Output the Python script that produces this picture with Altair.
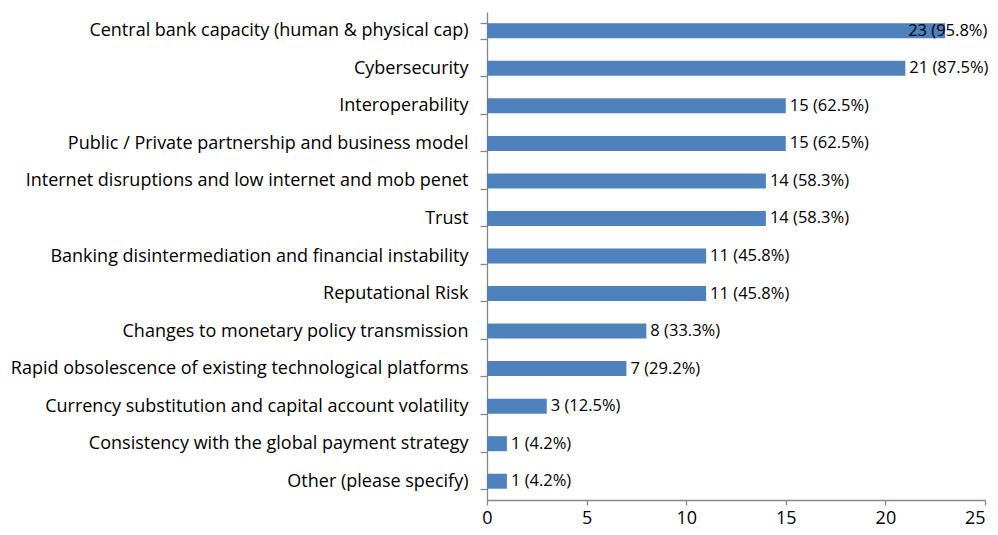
import altair as alt
import pandas as pd

categories = [
    "Central bank capacity (human & physical cap)",
    "Cybersecurity",
    "Interoperability",
    "Public / Private partnership and business model",
    "Internet disruptions and low internet and mob penet",
    "Trust",
    "Banking disintermediation and financial instability",
    "Reputational Risk",
    "Changes to monetary policy transmission",
    "Rapid obsolescence of existing technological platforms",
    "Currency substitution and capital account volatility",
    "Consistency with the global payment strategy",
    "Other (please specify)",
]
counts = [23, 21, 15, 15, 14, 14, 11, 11, 8, 7, 3, 1, 1]
percents = ["95.8%", "87.5%", "62.5%", "62.5%", "58.3%", "58.3%", "45.8%",
            "45.8%", "33.3%", "29.2%", "12.5%", "4.2%", "4.2%"]
x_ticks = [0, 5, 10, 15, 20, 25]

df = pd.DataFrame({"cat": categories, "count": counts, "pct": percents})
df["label"] = df["count"].astype(str) + " (" + df["pct"] + ")"

FONT = "Open Sans"
FS = 18
VFS = 16.5
AXIS_GRAY = "#868686"

y_enc = alt.Y("cat:N", sort=categories, title=None,
              scale=alt.Scale(paddingInner=0.58, paddingOuter=0.29),
              axis=alt.Axis(tickBand="extent", tickSize=7, domainColor=AXIS_GRAY,
                            tickColor=AXIS_GRAY, labelFont=FONT, labelFontSize=FS,
                            labelColor="#000000", labelPadding=12, labelLimit=600))
x_enc = alt.X("count:Q", title=None,
              scale=alt.Scale(domain=[0, 25], nice=False),
              axis=alt.Axis(values=x_ticks, grid=False, tickSize=5, domainColor=AXIS_GRAY,
                            tickColor=AXIS_GRAY, labelFont=FONT, labelFontSize=FS,
                            labelFlush=False, labelOverlap=False,
                            labelAlign=alt.ExprRef("datum.value == 25 ? 'right' : 'center'"),
                            labelColor="#000000", labelPadding=4))

base = alt.Chart(df)
bars = base.mark_bar(color="#4F81BD", size=15).encode(x=x_enc, y=y_enc)
text_out = base.transform_filter("datum.count < 22").mark_text(
    align="left", baseline="middle", dx=4, font=FONT, fontSize=VFS, color="#000000"
).encode(x="count:Q", y=alt.Y("cat:N", sort=categories), text="label:N")
text_in = base.transform_filter("datum.count >= 22").mark_text(
    align="left", baseline="middle", dx=-37, font=FONT, fontSize=VFS, color="#000000"
).encode(x="count:Q", y=alt.Y("cat:N", sort=categories), text="label:N")

chart = (bars + text_out + text_in).properties(
    width=498, height=488,
    autosize=alt.AutoSizeParams(type="none"),
    padding={"left": 479, "top": 4, "right": 5, "bottom": 27},
).configure_view(stroke=None).configure_axis(domainWidth=1.3, tickWidth=1.3)

chart.save("out.html", embed_options={"renderer": "svg", "actions": False})
